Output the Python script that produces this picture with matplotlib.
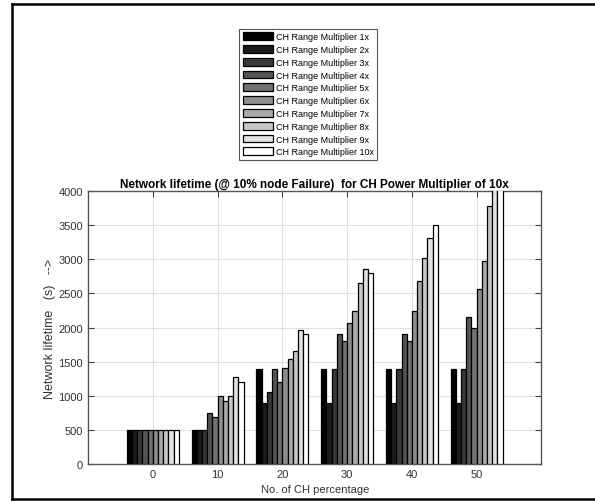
import numpy as np
import matplotlib.pyplot as plt
from matplotlib.lines import Line2D

plt.rcParams['font.family'] = ['Liberation Sans', 'DejaVu Sans']

# No. of CH percentage
ch_pct = [0, 10, 20, 30, 40, 50]
multipliers = ['%dx' % m for m in range(1, 11)]

# network lifetime per CH percentage, one value per range multiplier 1x..10x
life_0 = [490, 490, 490, 490, 490, 490, 490, 490, 490, 490]
life_10 = [490, 490, 490, 740, 690, 1000, 920, 1000, 1280, 1200]
life_20 = [1390, 900, 1060, 1390, 1200, 1400, 1540, 1650, 1960, 1900]
life_30 = [1390, 900, 1390, 1900, 1800, 2070, 2250, 2650, 2860, 2800]
life_40 = [1390, 900, 1390, 1900, 1800, 2240, 2680, 3020, 3310, 3500]
life_50 = [1390, 900, 1390, 2150, 2000, 2570, 2980, 3780, 4300, 4600]

data = np.array([life_0, life_10, life_20, life_30, life_40, life_50])
n = len(multipliers)
colors = plt.cm.gray(np.linspace(0, 1, n))

fig = plt.figure(figsize=(5.95, 5.02), dpi=100)
ax = fig.add_axes([0.148, 0.074, 0.762, 0.543])

bw = 0.8
x = np.array(ch_pct, dtype=float)
for i in range(n):
    offs = (i - (n - 1) / 2) * bw
    ax.bar(x + offs, data[:, i], width=bw, color=colors[i], edgecolor='black',
           linewidth=0.9, label='CH Range Multiplier ' + multipliers[i], zorder=3)

ax.set_xlim(-10, 60)
ax.set_ylim(0, 4000)
ax.set_xticks(ch_pct)
ax.set_yticks(np.arange(0, 4001, 500))
ax.grid(True, color='#e0e0e0', linewidth=0.8, zorder=0)
ax.tick_params(direction='in', top=True, right=True, labelsize=8, colors='#404040',
               labelcolor='#333333', length=4)
for s in ax.spines.values():
    s.set_color('#555555')
    s.set_linewidth(1.0)

ax.set_title('Network lifetime (@ 10% node Failure)  for CH Power Multiplier of 10x',
             fontsize=8.5, fontweight='bold', pad=3)
ax.set_xlabel('No. of CH percentage', fontsize=8, color='#333333', labelpad=4)
ax.set_ylabel('Network lifetime   (s)   -->', fontsize=9, color='#333333', labelpad=2)

leg = ax.legend(loc='upper center', bbox_to_anchor=(0.518, 0.94), bbox_transform=fig.transFigure,
                fontsize=6.5, handlelength=3.4, handleheight=0.95, labelspacing=0.42,
                handletextpad=0.3, borderpad=0.35, fancybox=False, framealpha=1,
                borderaxespad=0)
leg.get_frame().set_edgecolor('#555555')
leg.get_frame().set_linewidth(0.8)

# outer frame
W, H = 595.0, 502.0
for (x0, y0, x1, y1) in [(12, 5, 12, 500), (12, 5, 595, 5), (12, 500, 595, 500)]:
    fig.add_artist(Line2D([x0 / W, x1 / W], [1 - y0 / H, 1 - y1 / H], color='black',
                          linewidth=1.8, transform=fig.transFigure))

fig.savefig('out.png', dpi=100)
